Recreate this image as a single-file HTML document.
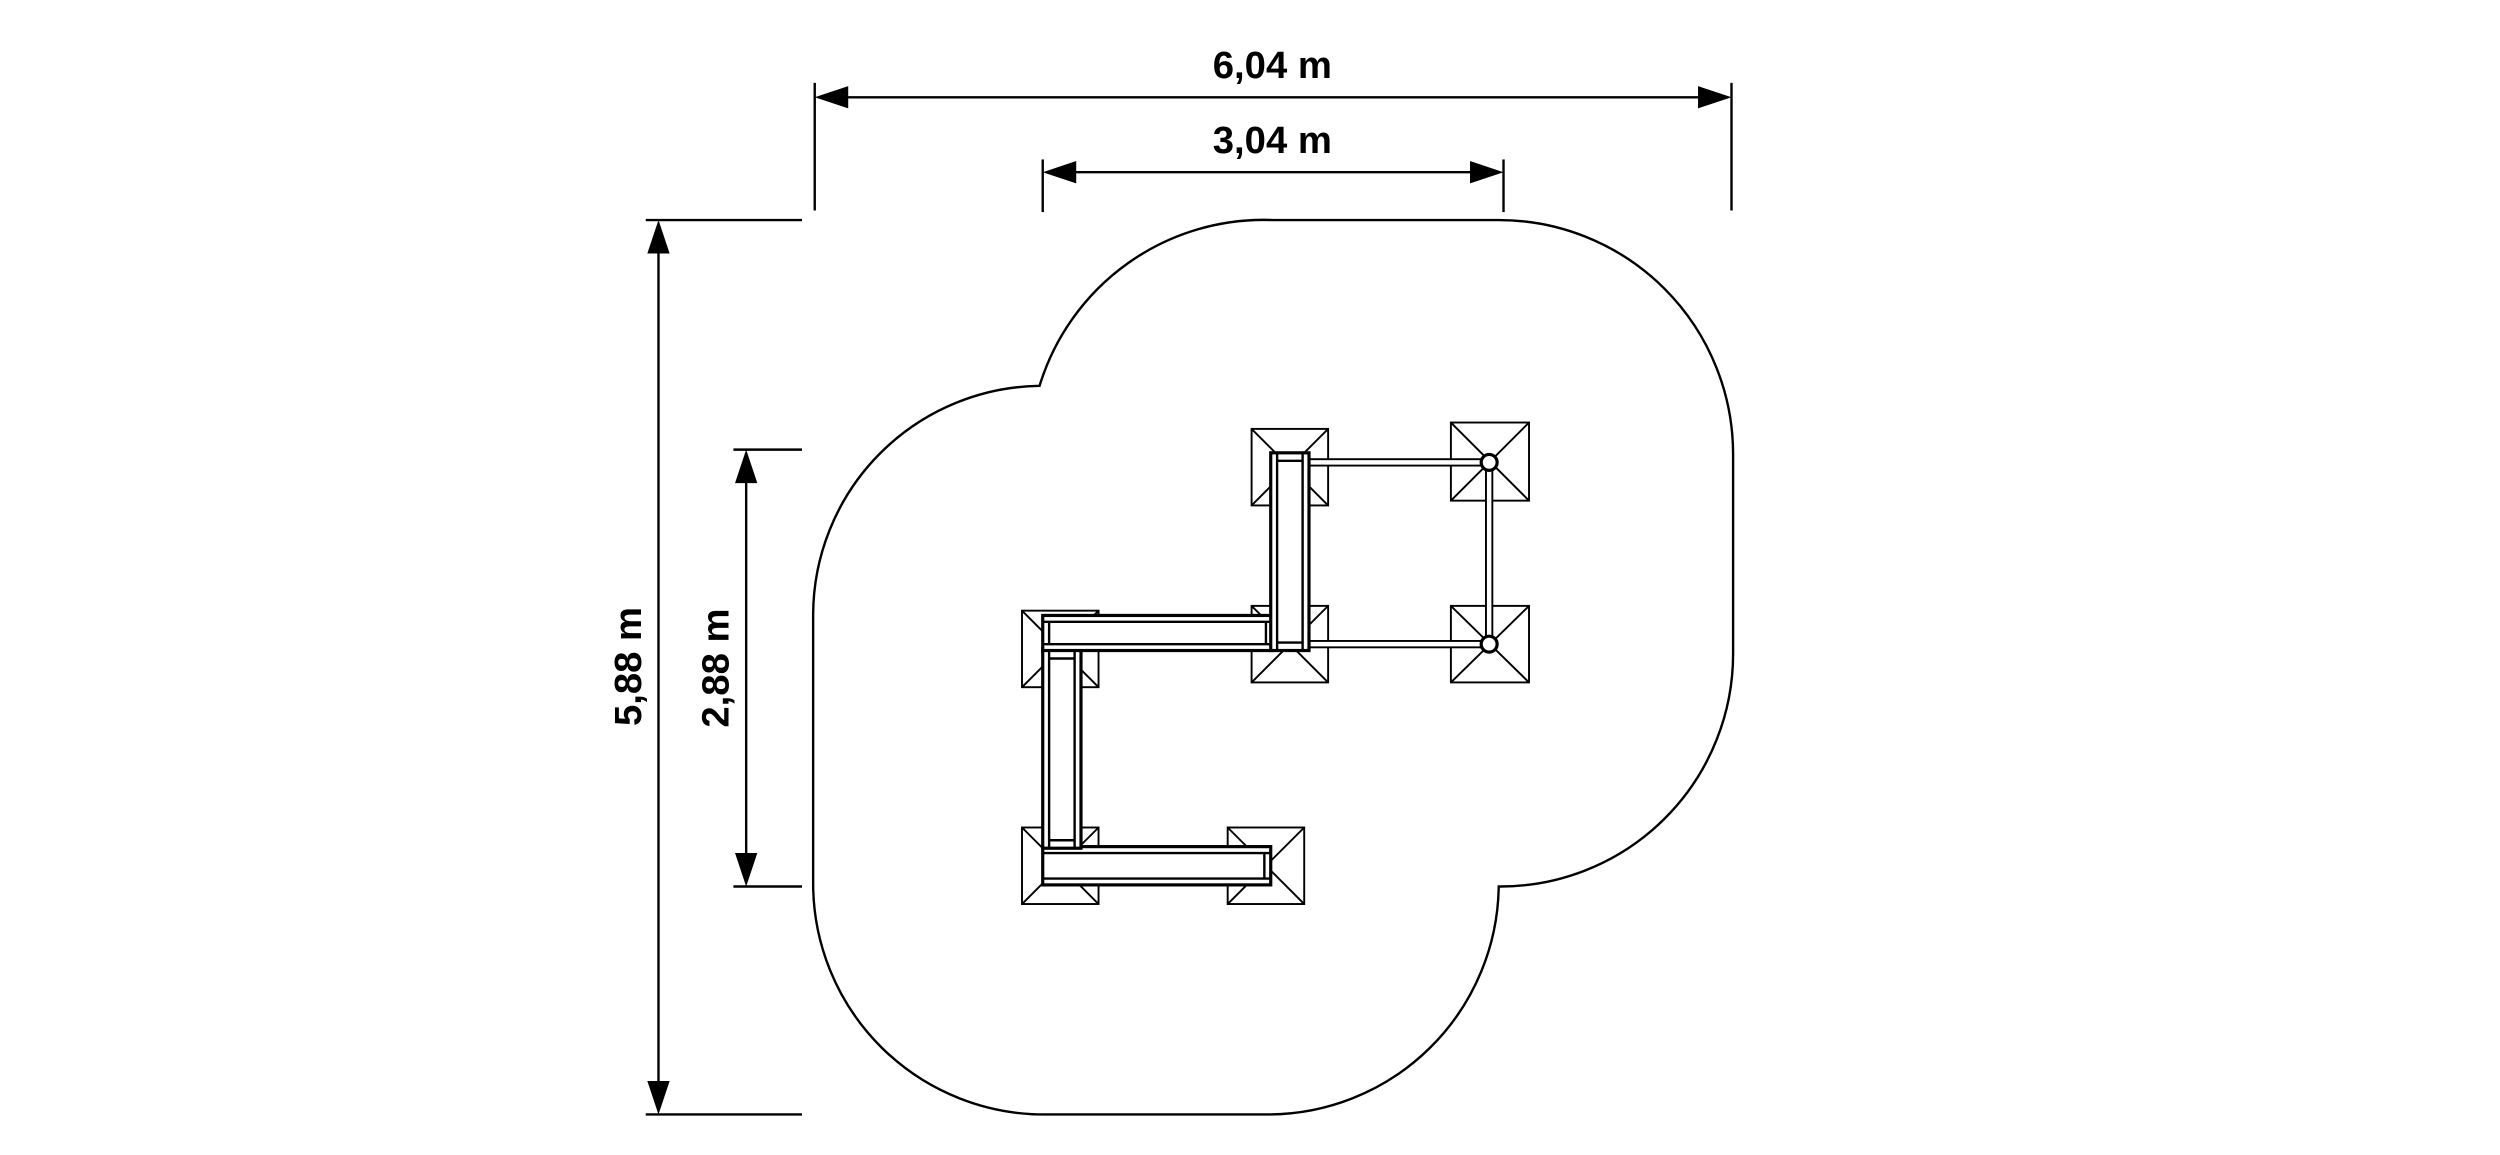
<!DOCTYPE html>
<html><head><meta charset="utf-8"><style>html,body{margin:0;padding:0;background:#fff}svg{display:block}</style></head>
<body>
<svg width="2500" height="1155" viewBox="0 0 1568 724.4" xmlns="http://www.w3.org/2000/svg">
<rect width="1568" height="725" fill="#fff"/>
<g fill="none" stroke="#000" stroke-width="1.5">
<path d="M798,138 L940,138 A147,147 0 0 1 1087,285 L1087,410 A146,146 0 0 1 940,556 A145,145 0 0 1 795,699 L655,699 A145,145 0 0 1 510,555 L510,385 A144,144 0 0 1 652,242 A147,147 0 0 1 798,138 Z"/>
</g>
<g stroke="#000" stroke-width="1.5" fill="none">
<line x1="511" y1="52" x2="511" y2="132"/><line x1="1086" y1="52" x2="1086" y2="132"/>
<line x1="525" y1="61" x2="1072" y2="61"/>
<line x1="654" y1="100" x2="654" y2="133"/><line x1="943" y1="100" x2="943" y2="133"/>
<line x1="668" y1="108" x2="929" y2="108"/>
<line x1="405" y1="138" x2="503" y2="138"/><line x1="405" y1="699" x2="503" y2="699"/>
<line x1="413" y1="152" x2="413" y2="685"/>
<line x1="460" y1="282" x2="503" y2="282"/><line x1="460" y1="556" x2="503" y2="556"/>
<line x1="468" y1="296" x2="468" y2="542"/>
</g>
<g fill="#000">
<polygon points="511,61 532,54 532,68"/><polygon points="1086,61 1065,54 1065,68"/>
<polygon points="654,108 675,101 675,115"/><polygon points="943,108 922,101 922,115"/>
<polygon points="413,138 406,159 420,159"/><polygon points="413,699 406,678 420,678"/>
<polygon points="468,282 461,303 475,303"/><polygon points="468,556 461,535 475,535"/>
</g>
<g font-family="Liberation Sans, sans-serif" font-weight="bold" font-size="24" text-anchor="middle" fill="#000">
<text x="798" y="49">6,04 m</text>
<text x="798" y="96">3,04 m</text>
<text transform="translate(402,418) rotate(-90)">5,88 m</text>
<text transform="translate(457,419) rotate(-90)">2,88 m</text>
</g>
<g stroke="#000" stroke-width="1.2" fill="#fff">
<g transform="translate(785,269)"><rect width="48" height="48"/><path d="M0,0L48,48M48,0L0,48"/></g>
<g transform="translate(910,265)"><rect width="49" height="49"/><path d="M0,0L49,49M49,0L0,49"/></g>
<g transform="translate(785,380)"><rect width="48" height="48"/><path d="M0,0L48,48M48,0L0,48"/></g>
<g transform="translate(910,380)"><rect width="49" height="48"/><path d="M0,0L49,48M49,0L0,48"/></g>
<g transform="translate(641,383)"><rect width="48" height="48"/><path d="M0,0L48,48M48,0L0,48"/></g>
<g transform="translate(641,519)"><rect width="48" height="48"/><path d="M0,0L48,48M48,0L0,48"/></g>
<g transform="translate(770,519)"><rect width="48" height="48"/><path d="M0,0L48,48M48,0L0,48"/></g>
</g>
<g stroke="#000" stroke-width="1.2" fill="#fff">
<rect x="820" y="288" width="114" height="4"/>
<rect x="820" y="402" width="114" height="4"/>
<rect x="932" y="290" width="4" height="114"/>
<circle cx="934" cy="290" r="5" stroke-width="2"/>
<circle cx="934" cy="404" r="5" stroke-width="2"/>
</g>
<g stroke="#000" stroke-width="2" fill="#fff">
<rect x="654" y="531" width="143" height="24"/>
<path d="M654,535H797M654,551H797M793,535V551" fill="none" stroke-width="1.5"/>
<rect x="654" y="407" width="24" height="125"/>
<path d="M658,407V532M674,407V532M658,413H674M658,527H674" fill="none" stroke-width="1.5"/>
<rect x="654" y="386" width="144" height="22"/>
<path d="M654,390H798M654,404H798M658,390V404M794,390V404" fill="none" stroke-width="1.5"/>
<rect x="797" y="284" width="24" height="124"/>
<path d="M801,284V408M817,284V408M801,289H817M801,403H817" fill="none" stroke-width="1.5"/>
</g>
</svg>
</body></html>
